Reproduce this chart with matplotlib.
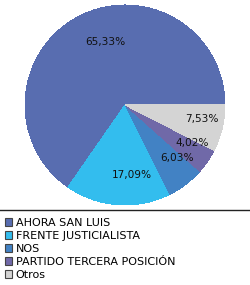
import matplotlib
matplotlib.use("Agg")
import matplotlib.pyplot as plt
from matplotlib.lines import Line2D
import numpy as np

parties = ["AHORA SAN LUIS", "FRENTE JUSTICIALISTA", "NOS",
           "PARTIDO TERCERA POSICIÓN", "Otros"]
shares = [65.33, 17.09, 6.03, 4.02, 7.53]
pct_labels = ["65,33%", "17,09%", "6,03%", "4,02%", "7,53%"]
colors = ["#586DB0", "#33BDEE", "#4282C4", "#7069A8", "#D4D4D4"]

plt.rcParams["font.family"] = "DejaVu Sans"
fig = plt.figure(figsize=(2.5, 2.85), dpi=100)
ax = fig.add_axes([0.1, 0.2807, 0.8, 0.7018])

# counterclockwise from 3 o'clock
wedges, _ = ax.pie(shares, colors=colors, startangle=0, counterclock=True,
                   wedgeprops=dict(linewidth=0, antialiased=False))
ax.set_xlim(-1, 1)
ax.set_ylim(-1, 1)
ax.set_aspect("equal")

# percentage labels along each wedge's mid angle (with small nudges)
label_r = [0.66, 0.70, 0.74, 0.77, 0.78]
label_shift = [-10, 10, 7, 5, 3]
start = 0.0
for i in range(len(shares)):
    span = shares[i] / sum(shares) * 360
    ang = np.deg2rad(start + span / 2 + label_shift[i])
    ax.text(label_r[i] * np.cos(ang), label_r[i] * np.sin(ang), pct_labels[i],
            ha="center", va="center", fontsize=7.6, color="#111111")
    start += span

fig.add_artist(Line2D([0, 1], [0.263, 0.263], color="#222222", lw=1.0))

leg = fig.legend(wedges, parties, loc="upper left",
                 bbox_to_anchor=(0.018, 0.236), frameon=False,
                 fontsize=8.0, handlelength=0.7, handleheight=0.7,
                 handletextpad=0.3, labelspacing=0.27, borderpad=0,
                 borderaxespad=0)
for h in leg.legend_handles:
    h.set_edgecolor("#444444")
    h.set_linewidth(0.8)

fig.savefig("out.png", dpi=100)
